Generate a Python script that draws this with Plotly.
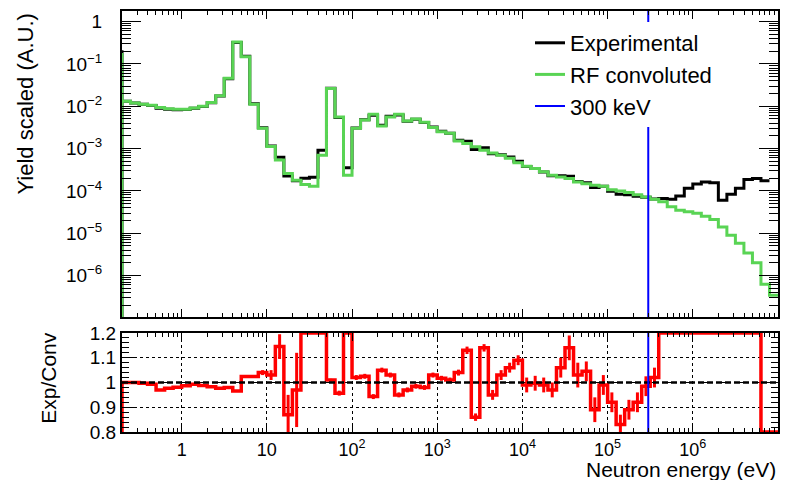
import numpy as np
import plotly.graph_objects as go

# ---------------- data ----------------
# binning: 10 bins per decade, 0.2 eV .. 10 MeV
log_e_min, log_e_max, n_bins = -0.7, 7.0, 77
bin_edges = np.logspace(log_e_min, log_e_max, n_bins + 1)

conv_yield = [
    1.32e-2, 1.20e-2, 1.12e-2, 1.05e-2, 9.3e-3, 8.7e-3, 8.5e-3, 8.5e-3, 9.1e-3, 1.0e-2,
    1.23e-2, 1.78e-2, 4.57e-2, 0.331, 0.148, 1.12e-2, 3.0e-3, 1.12e-3, 5.4e-4, 2.57e-4,
    1.78e-4, 1.41e-4, 1.29e-4, 6.9e-4, 2.63e-2, 5.6e-3, 2.34e-4, 3.0e-3, 4.7e-3, 6.5e-3,
    3.4e-3, 5.6e-3, 6.5e-3, 4.5e-3, 5.0e-3, 4.2e-3, 3.16e-3, 2.51e-3, 2.29e-3, 1.51e-3,
    1.32e-3, 1.10e-3, 9.1e-4, 7.9e-4, 6.9e-4, 5.9e-4, 4.6e-4, 3.8e-4, 3.4e-4, 2.82e-4,
    2.34e-4, 2.14e-4, 1.95e-4, 1.62e-4, 1.48e-4, 1.35e-4, 1.29e-4, 1.07e-4, 1.0e-4, 9.1e-5,
    8.1e-5, 7.2e-5, 6.3e-5, 5.5e-5, 4.2e-5, 3.5e-5, 3.2e-5, 2.95e-5, 2.5e-5, 2.1e-5,
    1.41e-5, 8.9e-6, 5.8e-6, 3.4e-6, 2.0e-6, 6.2e-7, 3.4e-7,
]
exp_yield = [
    1.32e-2, 1.20e-2, 1.12e-2, 1.04e-2, 9.0e-3, 8.5e-3, 8.3e-3, 8.4e-3, 9.0e-3, 9.9e-3,
    1.21e-2, 1.74e-2, 4.48e-2, 0.320, 0.152, 1.15e-2, 3.12e-3, 1.15e-3, 6.2e-4, 2.24e-4,
    1.73e-4, 2.0e-4, 2.1e-4, 9.1e-4, 2.66e-2, 5.4e-3, 3.5e-4, 3.06e-3, 4.8e-3, 6.1e-3,
    3.57e-3, 5.8e-3, 6.2e-3, 4.4e-3, 4.9e-3, 4.1e-3, 3.25e-3, 2.55e-3, 2.31e-3, 1.57e-3,
    1.49e-3, 9.5e-4, 1.04e-3, 7.5e-4, 7.1e-4, 6.3e-4, 5.0e-4, 3.76e-4, 3.39e-4, 2.79e-4,
    2.27e-4, 2.27e-4, 2.22e-4, 1.67e-4, 1.55e-4, 1.20e-4, 1.28e-4, 9.8e-5, 8.3e-5, 8.1e-5,
    7.5e-5, 7.1e-5, 6.4e-5, 6.6e-5, 6.3e-5, 7.6e-5, 1.15e-4, 1.45e-4, 1.62e-4, 1.55e-4,
    6.0e-5, 8.3e-5, 1.15e-4, 1.86e-4, 1.95e-4, 1.74e-4,
]
conv_left_spike = 0.18
exp_left_spike = 0.21

ratio = [
    1.0, 1.0, 0.997, 0.993, 0.97, 0.977, 0.981, 0.987, 0.993, 0.988,
    0.983, 0.977, 0.98, 0.966, 1.024, 1.024, 1.04, 1.03, 1.145, 0.87,
    0.97, 1.2, 1.2, 1.2, 1.01, 0.957, 1.2, 1.02, 1.025, 0.943,
    1.05, 1.03, 0.95, 0.97, 0.985, 0.98, 1.03, 1.017, 1.01, 1.04,
    1.13, 0.86, 1.14, 0.95, 1.03, 1.06, 1.09, 0.99, 0.997, 0.99,
    0.97, 1.06, 1.14, 1.03, 1.045, 0.89, 0.99, 0.92, 0.83, 0.89,
    0.92, 0.985, 1.02, 1.2, 1.2, 1.2, 1.2, 1.2, 1.2, 1.2,
    1.2, 1.2, 1.2, 1.2, 1.2, 0.8, 0.8,
]
ratio_err = [
    0.003, 0.003, 0.003, 0.003, 0.003, 0.003, 0.003, 0.003, 0.003, 0.003,
    0.003, 0.003, 0.003, 0.003, 0.005, 0.005, 0.01, 0.02, 0.05, 0.08,
    0.15, 0, 0, 0, 0.005, 0.01, 0, 0.01, 0.01, 0.01,
    0.01, 0.01, 0.01, 0.01, 0.01, 0.01, 0.01, 0.01, 0.01, 0.012,
    0.015, 0.015, 0.015, 0.02, 0.02, 0.02, 0.02, 0.03, 0.03, 0.03,
    0.03, 0.04, 0.05, 0.05, 0.04, 0.05, 0.04, 0.04, 0.04, 0.04,
    0.04, 0.04, 0.04, 0, 0, 0, 0, 0, 0, 0,
    0, 0, 0, 0, 0, 0, 0,
]
cut_energy_ev = 3e5
ratio_reference = 1.0

x_ticks = [1, 10, 1e2, 1e3, 1e4, 1e5, 1e6]
x_ticktext = ["1", "10", "10<sup>2</sup>", "10<sup>3</sup>", "10<sup>4</sup>", "10<sup>5</sup>", "10<sup>6</sup>"]
y_ticks = [1, 1e-1, 1e-2, 1e-3, 1e-4, 1e-5, 1e-6]
y_ticktext = ["1", "10<sup>−1</sup>", "10<sup>−2</sup>", "10<sup>−3</sup>", "10<sup>−4</sup>",
              "10<sup>−5</sup>", "10<sup>−6</sup>"]
r_ticks = [0.8, 0.9, 1.0, 1.1, 1.2]
r_ticktext = ["0.8", "0.9", "1", "1.1", "1.2"]

# ---------------- figure geometry ----------------
# the page body adds an 8 px offset; the figure is sized so the plot lands on the target pixels
OFF = 8
W, H = 788 - OFF, 480 - OFF
ml, mr, mt, mb = 122 - OFF, 10, 11 - OFF, 48
ph = H - mt - mb
pw = W - ml - mr


def px_x(px):
    return (px - OFF - ml) / pw


def px_y(py):
    return (H - mb - (py - OFF)) / ph


top_dom = [px_y(317), 1.0]
bot_dom = [0.0, px_y(333)]

edges = list(bin_edges)
floor_val = 1e-10
GREEN = "#59d454"
FONT = "Liberation Sans, Arial, Helvetica, sans-serif"

nexp = len(exp_yield)
fig = go.Figure()
fig.add_trace(go.Scatter(
    x=[edges[0], edges[0]] + edges[:nexp] + [edges[nexp]],
    y=[floor_val, exp_left_spike] + exp_yield + [exp_yield[-1]],
    mode="lines", line=dict(color="black", width=3, shape="hv"),
    name="Experimental", xaxis="x", yaxis="y"))
fig.add_trace(go.Scatter(
    x=[edges[0], edges[0]] + edges[:-1] + [edges[-1]],
    y=[floor_val, conv_left_spike] + conv_yield + [conv_yield[-1]],
    mode="lines", line=dict(color=GREEN, width=3, shape="hv"),
    name="RF convoluted", xaxis="x", yaxis="y"))
fig.add_trace(go.Scatter(
    x=[cut_energy_ev, cut_energy_ev], y=[floor_val, 100],
    mode="lines", line=dict(color="#0000ff", width=2),
    name="300 keV", xaxis="x", yaxis="y"))

# ratio panel
centers = [np.sqrt(edges[i] * edges[i + 1]) for i in range(n_bins)]
fig.add_trace(go.Scatter(
    x=[edges[0]] + edges[:-1] + [edges[-1]],
    y=[0.8] + ratio + [ratio[-1]],
    mode="lines", line=dict(color="#ff0000", width=3.5, shape="hv"),
    showlegend=False, xaxis="x2", yaxis="y2"))
fig.add_trace(go.Scatter(
    x=centers, y=ratio, mode="markers", marker=dict(size=1, color="#ff0000"),
    error_y=dict(type="data", array=ratio_err, color="#ff0000", thickness=3, width=0),
    showlegend=False, xaxis="x2", yaxis="y2"))
fig.add_trace(go.Scatter(
    x=[edges[0], edges[-1]], y=[ratio_reference, ratio_reference],
    mode="lines", line=dict(color="black", width=2.5, dash="6px,3px"),
    showlegend=False, xaxis="x2", yaxis="y2"))
fig.add_trace(go.Scatter(
    x=[cut_energy_ev, cut_energy_ev], y=[0.0, 2.0],
    mode="lines", line=dict(color="#0000ff", width=2),
    showlegend=False, xaxis="x2", yaxis="y2"))

x_minor = [k * 10.0 ** n for n in range(-1, 7) for k in range(2, 10)]
y_minor = [k * 10.0 ** n for n in range(-8, 1) for k in range(2, 10)]
xr = [log_e_min, log_e_max]

common_axis = dict(showline=True, linecolor="black", linewidth=2, mirror="allticks",
                   ticks="inside", tickcolor="black", zeroline=False, automargin=False)

fig.update_layout(
    width=W, height=H, margin=dict(l=ml, r=mr, t=mt, b=mb, autoexpand=False),
    paper_bgcolor="white", plot_bgcolor="white",
    font=dict(family=FONT, color="black"),
    showlegend=True,
    legend=dict(x=px_x(530), y=px_y(22), xanchor="left", yanchor="top",
                bgcolor="white", borderwidth=0, font=dict(size=22, family=FONT),
                itemwidth=30, tracegroupgap=0),
    xaxis=dict(type="log", range=xr, domain=[0, 1], anchor="y", showticklabels=False,
               tickvals=x_ticks, ticklen=8, tickwidth=1, showgrid=False,
               minor=dict(tickvals=x_minor, ticks="inside", ticklen=4, tickcolor="black", showgrid=False),
               **common_axis),
    yaxis=dict(type="log", range=[-6.98, 0.25], domain=top_dom, anchor="x",
               tickvals=y_ticks, ticktext=y_ticktext, ticklen=19, tickwidth=1, showgrid=False,
               tickfont=dict(size=19), ticklabelstandoff=14,
               minor=dict(tickvals=y_minor, ticks="inside", ticklen=9, tickcolor="black", showgrid=False),
               **common_axis),
    xaxis2=dict(type="log", range=xr, domain=[0, 1], anchor="y2", matches="x",
                tickvals=x_ticks, ticktext=x_ticktext, ticklen=8, tickwidth=1,
                tickfont=dict(size=18), ticklabelstandoff=0,
                showgrid=True, gridcolor="black", griddash="dot", gridwidth=1,
                minor=dict(tickvals=x_minor, ticks="inside", ticklen=4, tickcolor="black", showgrid=False),
                **common_axis),
    yaxis2=dict(range=[0.8, 1.2], domain=bot_dom, anchor="x2",
                tickvals=r_ticks, ticktext=r_ticktext, ticklen=13, tickwidth=1,
                tickfont=dict(size=19), ticklabelstandoff=0,
                showgrid=True, gridcolor="black", griddash="dot", gridwidth=1,
                minor=dict(dtick=0.02, ticks="inside", ticklen=7, tickcolor="black", showgrid=False),
                **common_axis),
    annotations=[
        dict(text="Yield scaled (A.U.)", textangle=-90, xref="paper", yref="paper",
             x=px_x(25), y=px_y(104.5), xanchor="center", yanchor="middle",
             showarrow=False, font=dict(size=22, family=FONT)),
        dict(text="Exp/Conv", textangle=-90, xref="paper", yref="paper",
             x=px_x(48.5), y=px_y(378.3), xanchor="center", yanchor="middle",
             showarrow=False, font=dict(size=21, family=FONT)),
        dict(text="Neutron energy (eV)", xref="paper", yref="paper",
             x=1.0, y=px_y(469), xanchor="right", yanchor="middle",
             showarrow=False, font=dict(size=21, family=FONT)),
    ],
)

fig.write_html("out.html")
